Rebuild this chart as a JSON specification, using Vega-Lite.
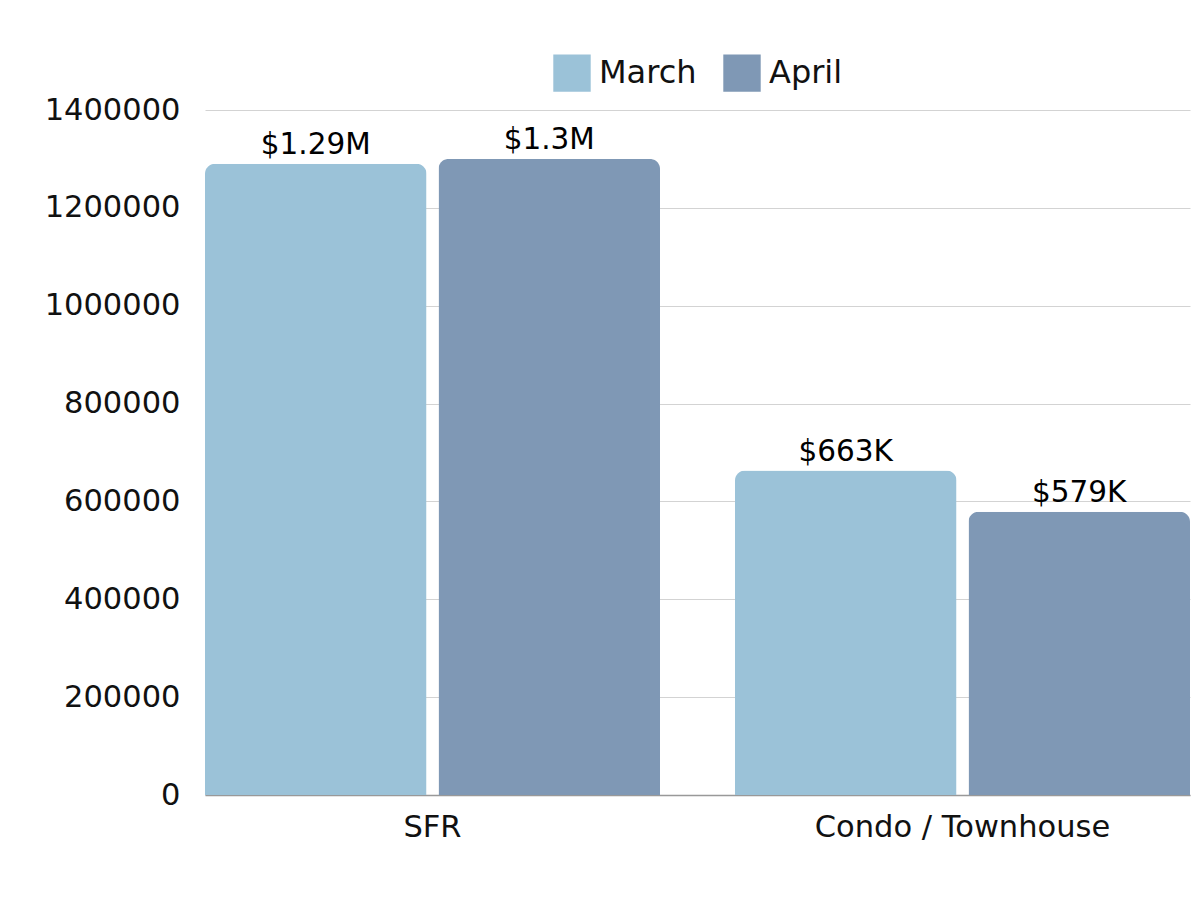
{
  "$schema": "https://vega.github.io/schema/vega-lite/v6.json",
  "autosize": "none",
  "width": 985,
  "height": 685,
  "padding": {"left": 205, "top": 110, "right": 10, "bottom": 105},
  "background": "white",
  "data": {
    "values": [
      {"type": "SFR", "month": "March", "value": 1290000, "label": "$1.29M"},
      {"type": "SFR", "month": "April", "value": 1300000, "label": "$1.3M"},
      {"type": "Condo / Townhouse", "month": "March", "value": 663000, "label": "$663K"},
      {"type": "Condo / Townhouse", "month": "April", "value": 579000, "label": "$579K"}
    ]
  },
  "encoding": {
    "x": {
      "field": "type", "type": "nominal", "sort": ["SFR", "Condo / Townhouse"],
      "scale": {"paddingInner": 0.1415, "paddingOuter": 0},
      "axis": {"title": null, "labelAngle": 0, "ticks": false, "labelPadding": 17, "labelFontSize": 30.5, "labelFont": "DejaVu Sans", "labelColor": "#111111", "domainColor": "#999999", "domainWidth": 1.5, "labelBaseline": "top", "labelLimit": 0}
    },
    "xOffset": {"field": "month", "type": "nominal", "sort": ["March", "April"], "scale": {"paddingInner": 0.0514, "paddingOuter": 0}},
    "y": {
      "field": "value", "type": "quantitative",
      "scale": {"domain": [0, 1400000]},
      "axis": {"title": null, "values": [0, 200000, 400000, 600000, 800000, 1000000, 1200000, 1400000], "format": "d", "ticks": false, "domain": false, "labelPadding": 25, "labelFontSize": 30.5, "labelFont": "DejaVu Sans", "labelColor": "#111111", "gridColor": "#d3d3d3", "gridWidth": 1}
    }
  },
  "layer": [
    {
      "mark": {"type": "bar", "cornerRadiusTopLeft": 10, "cornerRadiusTopRight": 10},
      "encoding": {
        "color": {
          "field": "month", "type": "nominal", "sort": ["March", "April"],
          "scale": {"domain": ["March", "April"], "range": ["#9BC2D8", "#7F98B5"]},
          "legend": {"title": null, "orient": "top", "direction": "horizontal", "symbolType": "square", "symbolSize": 1400, "symbolStrokeWidth": 0, "labelFontSize": 32, "labelFont": "DejaVu Sans", "labelColor": "#111111", "offset": 18, "columnPadding": 26, "labelOffset": 8}
        }
      }
    },
    {
      "mark": {"type": "text", "baseline": "bottom", "dy": -4, "fontSize": 29.5, "font": "DejaVu Sans", "color": "#000000"},
      "encoding": {"text": {"field": "label"}}
    }
  ],
  "config": {
    "view": {"stroke": null},
    "legend": {"layout": {"top": {"anchor": "middle"}}}
  }
}
